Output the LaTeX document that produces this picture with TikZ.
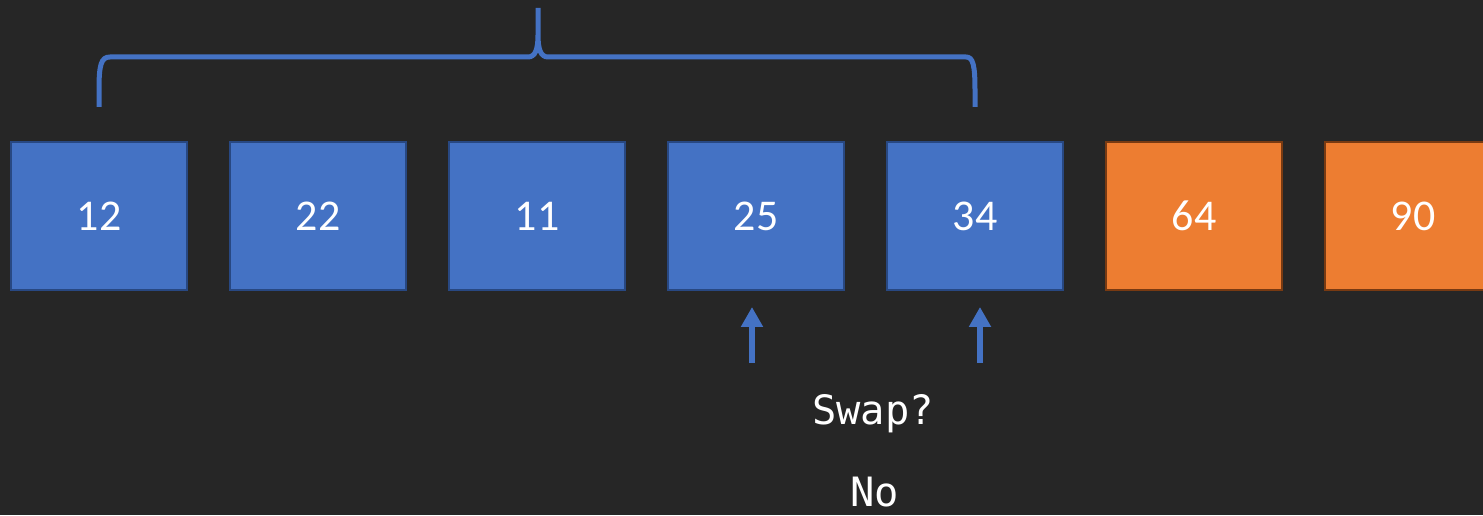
\documentclass[tikz,border=0pt]{standalone}
\usepackage{fontspec}
\setmainfont{Carlito}
\setmonofont{DejaVu Sans Mono}
\usepackage{xcolor}
\usepackage{tikz}
\usetikzlibrary{arrows.meta,positioning}
\definecolor{bgdark}{RGB}{38,38,38}
\definecolor{cellblue}{RGB}{68,114,196}
\definecolor{cellblueedge}{RGB}{40,72,130}
\definecolor{sortedorange}{RGB}{237,125,49}
\definecolor{sortededge}{RGB}{120,58,18}
\tikzset{
  cell/.style={rectangle, draw=cellblueedge, fill=cellblue, line width=0.04cm, minimum width=3.52cm, minimum height=2.96cm, inner sep=0pt, text=white, font=\fontsize{25}{30}\selectfont},
  sortedcell/.style={cell, draw=sortededge, fill=sortedorange},
  bracepath/.style={draw=cellblue, line width=0.1cm},
  ptr/.style={draw=cellblue, line width=0.12cm, -{Triangle[length=0.4cm,width=0.42cm]}},
  note/.style={text=white, anchor=base, font=\ttfamily\fontsize{23}{28}\selectfont}
}

\begin{document}
\begin{tikzpicture}
  \fill[bgdark] (0,0) rectangle (29.66,10.30);
  \useasboundingbox (0,0) rectangle (29.66,10.30);
  \clip (0,0) rectangle (29.66,10.30);

  % the array
  \node[cell] (c1) at (1.98,5.98) {12};
  \node[cell] (c2) at (6.36,5.98) {22};
  \node[cell] (c3) at (10.74,5.98) {11};
  \node[cell] (c4) at (15.12,5.98) {25};
  \node[cell] (c5) at (19.50,5.98) {34};
  \node[sortedcell] (c6) at (23.88,5.98) {64};
  \node[sortedcell] (c7) at (28.26,5.98) {90};

  % unsorted part
  \draw[bracepath] (1.98,8.16) -- (1.98,8.50) .. controls (1.98,9.00) and (2.02,9.16) .. (2.20,9.16)
    -- (10.56,9.16) .. controls (10.70,9.16) and (10.76,9.30) .. (10.76,9.60) -- (10.76,10.14)
    (10.76,9.60) .. controls (10.76,9.30) and (10.82,9.16) .. (10.96,9.16)
    -- (19.32,9.16) .. controls (19.46,9.16) and (19.50,9.00) .. (19.50,8.50) -- (19.50,8.16);

  % compared pair
  \coordinate (ltail) at (15.04,3.04);
  \coordinate (lhead) at (15.04,4.16);
  \coordinate (rtail) at (19.60,3.04);
  \coordinate (rhead) at (19.60,4.16);
  \draw[ptr] (ltail) -- (lhead);
  \draw[ptr] (rtail) -- (rhead);

  \node[note] (ask) at (17.46,1.80) {Swap?};
  \node[note] (answer) at (17.49,0.16) {No};
\end{tikzpicture}
\end{document}
